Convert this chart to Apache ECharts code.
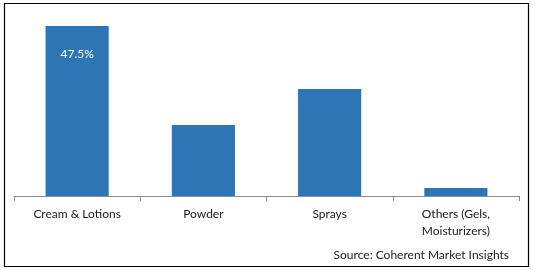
<!DOCTYPE html>
<html><head><meta charset="utf-8">
<script src="https://cdn.jsdelivr.net/npm/echarts@6/dist/echarts.min.js"></script>
<style>html,body{margin:0;padding:0;background:#fff}#c{width:535px;height:270px}</style>
</head><body><div id="c"></div>
<script>
const categories = ['Cream & Lotions', 'Powder', 'Sprays', 'Others (Gels,\nMoisturizers)'];
const shares = [47.5, 19.8, 29.9, 2.2];
const labelledIndex = 0;

const chart = echarts.init(document.getElementById('c'), null, {renderer: 'canvas'});
const font = 'Lato, "Open Sans", sans-serif';
chart.setOption({
  animation: false,
  backgroundColor: '#fff',
  grid: {left: 14, right: 16, top: 17, bottom: 74, containLabel: false},
  xAxis: {
    type: 'category', data: categories,
    axisLine: {lineStyle: {color: '#8c8c8c', width: 1}},
    axisTick: {show: true, length: 5, lineStyle: {color: '#8c8c8c'}},
    axisLabel: {color: '#1a1a1a', fontFamily: font, fontSize: 12, margin: 10, lineHeight: 17, interval: 0}
  },
  yAxis: {type: 'value', min: 0, max: 50, show: false, splitLine: {show: false}},
  series: [{
    type: 'bar', barWidth: '50%',
    itemStyle: {color: '#2E75B6'},
    data: shares.map((v, i) => ({
      value: v,
      label: {show: i === labelledIndex, position: 'insideTop', distance: 22,
        formatter: p => p.value + '%', color: '#fff', fontFamily: font, fontSize: 12}
    }))
  }],
  graphic: [
    {type: 'rect', shape: {x: 4.5, y: 3.5, width: 524, height: 263}, style: {fill: 'none', stroke: '#000', lineWidth: 1.2}, silent: true},
    {type: 'text', right: 26, top: 249, style: {text: 'Source: Coherent Market Insights', fill: '#1a1a1a', font: '12px ' + font}}
  ]
});
</script></body></html>
